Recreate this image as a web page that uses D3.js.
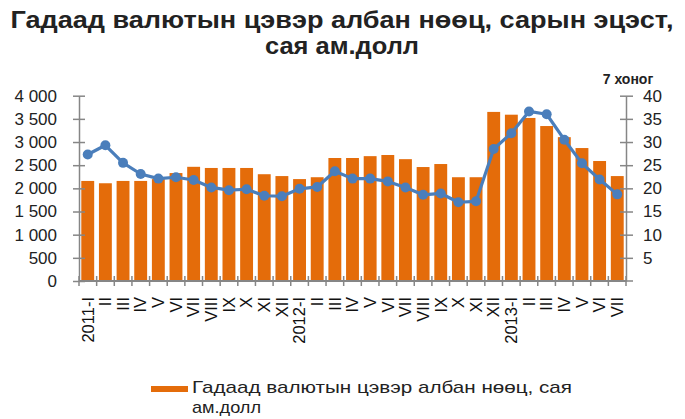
<!DOCTYPE html>
<html><head><meta charset="utf-8">
<script src="https://cdn.jsdelivr.net/npm/d3@7"></script>
<style>
body{margin:0;background:#fff;}
svg{display:block;font-family:"Liberation Sans",Arial,sans-serif;}
</style></head>
<body><svg id="c" width="685" height="419"></svg>
<script>
const categories = ["2011-I","II","III","IV","V","VI","VII","VIII","IX","X","XI","XII",
  "2012-I","II","III","IV","V","VI","VII","VIII","IX","X","XI","XII",
  "2013-I","II","III","IV","V","VI","VII"];
const reserves = [2160,2110,2160,2160,2200,2330,2465,2440,2440,2440,2305,2265,2200,2240,
  2655,2655,2695,2720,2630,2460,2525,2240,2240,3650,3590,3520,3345,3105,2870,2590,2265];
const weeks = [27.3,29.3,25.5,23.1,22.1,22.4,21.8,20.2,19.6,19.8,18.4,18.3,19.9,20.3,
  23.7,22.1,22.1,21.5,20.2,18.6,18.9,17.0,17.2,28.5,31.9,36.6,36.0,30.5,25.4,21.9,18.7];
const leftTicks = [0,500,1000,1500,2000,2500,3000,3500,4000];
const rightTicks = [5,10,15,20,25,30,35,40];
const titleLines = ["Гадаад валютын цэвэр албан нөөц, сарын эцэст,","сая ам.долл"];
const rightUnit = "7 хоног";
const legendLines = ["Гадаад валютын цэвэр албан  нөөц, сая","ам.долл"];

const svg = d3.select("#c");
const L = 79, R = 626, T = 95.7, B = 281;
const x = d3.scaleBand().domain(d3.range(categories.length)).range([L,R]).paddingInner(0.27).paddingOuter(0.13);
const yL = d3.scaleLinear().domain([0,4000]).range([B,T]);
const yR = d3.scaleLinear().domain([0,40]).range([B,T]);
const orange = "#E46C0A", blue = "#4A7EBB", axisCol = "#868686";

// title
const titleLen = [663, 154];
svg.append("g").selectAll("text").data(titleLines).join("text")
  .attr("x",342).attr("y",(d,i)=>28+i*26).attr("text-anchor","middle")
  .attr("textLength",(d,i)=>titleLen[i]).attr("lengthAdjust","spacingAndGlyphs")
  .attr("font-weight","bold").attr("font-size",23).attr("fill","#222").text(d=>d);

// bars
svg.append("g").selectAll("rect").data(reserves).join("rect")
  .attr("x",(d,i)=>x(i)).attr("width",x.bandwidth())
  .attr("y",d=>yL(d)).attr("height",d=>B-yL(d)).attr("fill",orange);

// left axis
const gl = svg.append("g").attr("transform",`translate(${L},0)`)
  .call(d3.axisLeft(yL).tickValues(leftTicks).tickSize(0).tickPadding(22)
  .tickFormat(d=>d>=1000?d3.format(",")(d).replace(","," "):d));
gl.select(".domain").attr("stroke",axisCol).attr("stroke-width",1.5);
gl.selectAll(".tick text").attr("font-size",17).attr("fill","#222").attr("font-family","Liberation Sans, Arial");
gl.selectAll(".tick").append("line").attr("x1",-6).attr("x2",6).attr("stroke",axisCol).attr("stroke-width",1.5);

// right axis
const gr = svg.append("g").attr("transform",`translate(${R},0)`)
  .call(d3.axisRight(yR).tickValues(rightTicks).tickSize(0).tickPadding(17));
gr.select(".domain").attr("stroke",axisCol).attr("stroke-width",1.5);
gr.selectAll(".tick text").attr("font-size",17).attr("fill","#222").attr("font-family","Liberation Sans, Arial");
gr.selectAll(".tick").append("line").attr("x1",-6).attr("x2",7).attr("stroke",axisCol).attr("stroke-width",1.5);
gr.append("line").attr("y1",B).attr("y2",B).attr("x1",-6).attr("x2",7).attr("stroke",axisCol).attr("stroke-width",1.5);

svg.append("text").attr("x",628).attr("y",84).attr("text-anchor","middle")
  .attr("font-weight","bold").attr("font-size",14).attr("fill","#222").text(rightUnit);

// x axis
const gx = svg.append("g").attr("transform",`translate(0,${B})`)
  .call(d3.axisBottom(x).tickSize(0).tickPadding(0).tickFormat(i=>categories[i]));
gx.select(".domain").remove();
gx.append("line").attr("x1",L).attr("x2",R).attr("stroke",axisCol).attr("stroke-width",2);
const bounds = d3.range(categories.length+1).map(i=>L + i*(R-L)/categories.length);
gx.selectAll("line.tk").data(bounds).join("line").attr("class","tk")
  .attr("x1",d=>d).attr("x2",d=>d).attr("y1",-5).attr("y2",5).attr("stroke",axisCol).attr("stroke-width",1.5);
gx.selectAll(".tick text").attr("font-size",16.5).attr("fill","#111").attr("font-family","Liberation Sans, Arial")
  .attr("text-anchor","end").attr("dy","0.35em")
  .attr("transform","translate(0,16) rotate(-90)");

// line
const line = d3.line().x((d,i)=>x(i)+x.bandwidth()/2).y(d=>yR(d));
svg.append("path").datum(weeks).attr("d",line).attr("fill","none")
  .attr("stroke",blue).attr("stroke-width",3.2).attr("stroke-linejoin","round");
svg.append("g").selectAll("circle").data(weeks).join("circle")
  .attr("cx",(d,i)=>x(i)+x.bandwidth()/2).attr("cy",d=>yR(d)).attr("r",5).attr("fill",blue);

// legend
const legLen = [380, 69];
svg.append("rect").attr("x",151).attr("y",386).attr("width",37).attr("height",6).attr("fill",orange);
svg.append("g").selectAll("text").data(legendLines).join("text")
  .attr("x",192).attr("y",(d,i)=>393+i*20).attr("font-size",17).attr("fill","#222")
  .attr("textLength",(d,i)=>legLen[i]).attr("lengthAdjust","spacingAndGlyphs").text(d=>d);
</script></body></html>
